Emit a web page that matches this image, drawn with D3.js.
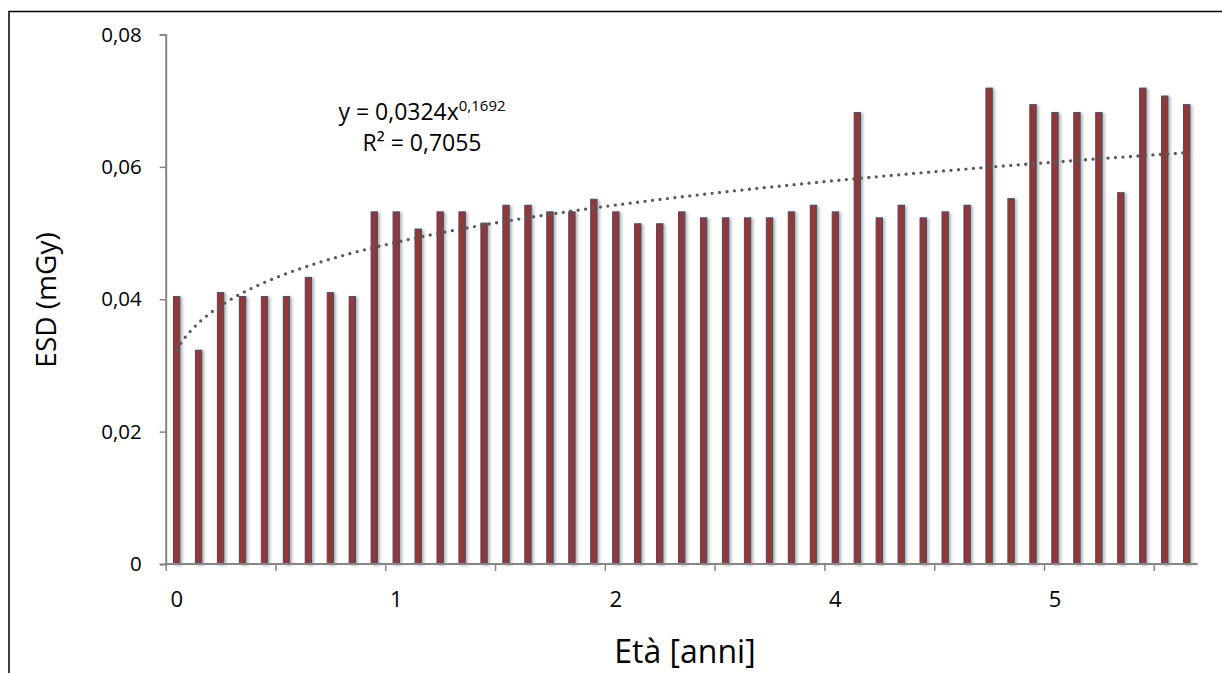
<!DOCTYPE html>
<html>
<head>
<meta charset="utf-8">
<script src="https://cdn.jsdelivr.net/npm/d3@7"></script>
<style>
  body { margin: 0; background: #fff; }
  svg { display: block; font-family: "Open Sans", sans-serif; }
</style>
</head>
<body>
<svg id="viz" width="1222" height="673"></svg>
<script>
// ESD per category (47 bars)
const esdValues = [
    0.0404, 0.0323, 0.0410, 0.0404, 0.0404, 0.0404, 0.0433, 0.0410, 0.0404, 0.0532,
    0.0532, 0.0506, 0.0532, 0.0532, 0.0515, 0.0542, 0.0542, 0.0532, 0.0532, 0.0551,
    0.0532, 0.0514, 0.0514, 0.0532, 0.0523, 0.0523, 0.0523, 0.0523, 0.0532, 0.0542,
    0.0532, 0.0682, 0.0523, 0.0542, 0.0523, 0.0532, 0.0542, 0.0719, 0.0552, 0.0694,
    0.0682, 0.0682, 0.0682, 0.0561, 0.0719, 0.0707, 0.0694
];
const categories = esdValues.map((d, i) => i + 1);
// category -> shown age label (every 10th category)
const ageLabels = [[1, "0"], [11, "1"], [21, "2"], [31, "4"], [41, "5"]];
const yTicks = [0, 0.02, 0.04, 0.06, 0.08];
// power trendline shown on the chart: y = a * x^b
const trendA = 0.0324;
const trendB = 0.1692;

const svg = d3.select("#viz");
const plotLeft = 165.7, plotRight = 1197.7, plotTop = 34.5, plotBottom = 564;

const defs = svg.append("defs");
const f = defs.append("filter").attr("id", "shadow")
    .attr("x", "-100%").attr("y", "-5%").attr("width", "300%").attr("height", "110%");
f.append("feDropShadow")
    .attr("dx", 2).attr("dy", 1).attr("stdDeviation", 1.6)
    .attr("flood-color", "#000").attr("flood-opacity", 0.3);

// outer chart border
svg.append("rect")
    .attr("x", 9).attr("y", 11.5).attr("width", 1400).attr("height", 800)
    .attr("fill", "none").attr("stroke", "#000").attr("stroke-width", 1.5);

const x = d3.scaleBand()
    .domain(categories)
    .range([plotLeft, plotRight])
    .paddingInner(0.71)
    .paddingOuter(0.355);
const xEdge = d3.scaleLinear().domain([0, categories.length]).range([plotLeft, plotRight]);
const y = d3.scaleLinear().domain([0, 0.08]).range([plotBottom, plotTop]);

// bars
svg.append("g").attr("filter", "url(#shadow)")
    .selectAll("rect")
    .data(esdValues)
    .enter()
    .append("rect")
    .attr("x", (d, i) => x(categories[i]))
    .attr("y", (d) => y(d))
    .attr("width", x.bandwidth())
    .attr("height", (d) => y(0) - y(d))
    .attr("fill", "#953735")
    .attr("stroke", "#3f4d6e")
    .attr("stroke-width", 1);

// axes
const fmt = (d) => d === 0 ? "0" : d3.format(".2f")(d).replace(".", ",");
const yAxis = svg.append("g")
    .attr("transform", `translate(${plotLeft},0)`)
    .call(d3.axisLeft(y).tickValues(yTicks).tickFormat(fmt).tickSize(6).tickPadding(18));
const xAxis = svg.append("g")
    .attr("transform", `translate(0,${plotBottom})`)
    .call(d3.axisBottom(xEdge).tickValues(d3.range(0, categories.length, 5)).tickFormat("").tickSize(7));
[yAxis, xAxis].forEach((g) => {
    g.select(".domain").attr("stroke", "#868686").attr("stroke-width", 2);
    g.selectAll(".tick line").attr("stroke", "#868686").attr("stroke-width", 1.5);
});
yAxis.selectAll("text").attr("font-size", 20.5).attr("fill", "#000").attr("font-family", "Open Sans");
xAxis.select(".domain").attr("d", `M${plotLeft},0H${plotRight}`);

svg.append("g").selectAll("text")
    .data(ageLabels)
    .enter()
    .append("text")
    .attr("x", (d) => x(d[0]) + x.bandwidth() / 2)
    .attr("y", 607)
    .attr("text-anchor", "middle")
    .attr("font-size", 22)
    .text((d) => d[1]);

// trendline (dotted)
const trendX = d3.range(1, categories.length + 0.001, 0.1);
const line = d3.line()
    .x((t) => x(1) + x.bandwidth() / 2 + (t - 1) * x.step())
    .y((t) => y(trendA * Math.pow(t, trendB)));
svg.append("path")
    .datum(trendX)
    .attr("d", line)
    .attr("fill", "none")
    .attr("stroke", "#595959")
    .attr("stroke-width", 3.3)
    .attr("stroke-linecap", "round")
    .attr("stroke-dasharray", "0 7.5");

// equation
const eq = svg.append("text")
    .attr("x", 422).attr("y", 120)
    .attr("text-anchor", "middle")
    .attr("font-size", 23);
eq.append("tspan").text("y = 0,0324x");
eq.append("tspan").attr("font-size", 15).attr("dy", -9).text("0,1692");
svg.append("text")
    .attr("x", 422).attr("y", 151)
    .attr("text-anchor", "middle")
    .attr("font-size", 23)
    .text("R² = 0,7055");

// axis titles
svg.append("text")
    .attr("transform", "translate(56,300) rotate(-90)")
    .attr("text-anchor", "middle")
    .attr("font-size", 28)
    .text("ESD (mGy)");
svg.append("text")
    .attr("x", 685).attr("y", 663)
    .attr("text-anchor", "middle")
    .attr("font-size", 32)
    .text("Età [anni]");
</script>
</body>
</html>
